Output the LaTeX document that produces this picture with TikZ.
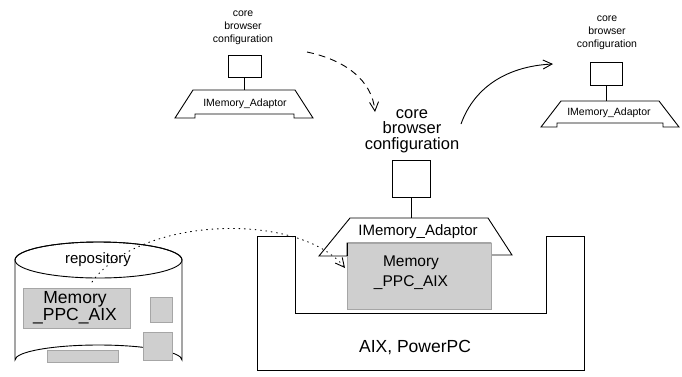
\documentclass[tikz,border=0pt]{standalone}
\usepackage{fontspec}
\setmainfont{Liberation Sans}
\usetikzlibrary{arrows.meta}
\tikzset{
  ln/.style={line width=0.9pt, line join=miter},
  txt/.style={inner sep=0pt, align=center},
  smalltxt/.style={txt, font=\fontsize{10.5}{13}\selectfont},
  bigtxt/.style={txt, font=\fontsize{16.5}{15.5}\selectfont},
  sq/.style={draw, line width=0.9pt, rectangle, inner sep=0pt, fill=white},
  shade/.style={fill=gray!38, draw=gray!70, line width=0.4pt},
  barb/.style={-{Straight Barb[length=9pt,width=9pt,line width=0.9pt]}},
}
\begin{document}
\begin{tikzpicture}[x=1pt,y=-1pt]
\useasboundingbox (0,0) rectangle (682,376);

% ---------- top-left component ----------
\node[smalltxt] (tlT) at (243,28) {core\\browser\\configuration};
\node[sq, minimum width=33pt, minimum height=22pt] (tlS) at (244.5,66) {};
\draw[ln, fill=white] (193,90) -- (295,90) -- (313,118) -- (294,118) -- (294,114)
  -- (195,114) -- (195,118) -- (175,118) -- cycle;
\coordinate (tlA) at (244.5,90);
\node[smalltxt] (tlL) at (245,104) {IMemory\_Adaptor};
\draw[ln] (tlS.south) -- (tlA);

% ---------- top-right component ----------
\node[smalltxt] (trT) at (607,33) {core\\browser\\configuration};
\node[sq, minimum width=32pt, minimum height=23pt] (trS) at (606,73.5) {};
\draw[ln, fill=white] (561,101) -- (659,101) -- (679,127) -- (663,127) -- (663,123)
  -- (557,123) -- (557,127) -- (541,127) -- cycle;
\coordinate (trA) at (606,101);
\node[smalltxt] (trL) at (609,113) {IMemory\_Adaptor};
\draw[ln] (trS.south) -- (trA);

% ---------- AIX, PowerPC platform ----------
\draw[ln] (257,236) -- (295,236) -- (295,313) -- (546,313) -- (546,236) -- (584,236)
  -- (584,370) -- (257,370) -- cycle;
\node[txt, font=\fontsize{17.5}{20}\selectfont] (aix) at (415,347) {AIX, PowerPC};

% ---------- center component ----------
\node[bigtxt] (cT) at (412,131) {core\\browser\\configuration};
\node[sq, minimum width=38pt, minimum height=37pt] (cS) at (411,178.5) {};
\draw[ln, fill=white] (350,218) -- (488,218) -- (512,255) -- (491,255) -- (491,243)
  -- (347,243) -- (347,256) -- (319,256) -- cycle;
\coordinate (cA) at (411,218);
\node[txt, font=\fontsize{15}{17}\selectfont] (cL) at (418,232) {IMemory\_Adaptor};
\draw[ln] (cS.south) -- (cA);
\draw[shade] (347,243) rectangle (491,309);
\draw[ln] (347,243) -- (347,256);
\node[txt, font=\fontsize{15.5}{20}\selectfont] (cM) at (411,273) {Memory\\\_PPC\_AIX};

% ---------- repository ----------
\draw[ln, fill=white] (15,260) -- (15,360) arc[start angle=180, end angle=360, x radius=83.5, y radius=15]
  -- (182,260) arc[start angle=0, end angle=-180, x radius=83.5, y radius=18] -- cycle;
\draw[ln] (98.5,260) ellipse[x radius=83.5, y radius=18];
\node[txt, font=\fontsize{15}{17}\selectfont] (rep) at (98,260) {repository};
\draw[shade] (23,288) rectangle (130,328);
\node[txt, font=\fontsize{17.5}{17}\selectfont] (rM) at (75,308) {Memory\\\_PPC\_AIX};
\draw[shade] (150,297) rectangle (172,322);
\draw[shade] (143,332) rectangle (172,360);
\draw[shade] (47,350) rectangle (118,362);

% ---------- arrows ----------
\coordinate (dotS) at (92,282);
\coordinate (dotE) at (345,268);
\draw[line width=0.9pt, dash pattern=on 0.9pt off 4.5pt, line cap=round, barb] (dotS) .. controls (140,215) and (300,212) .. (dotE);

\coordinate (dashS) at (307,52);
\coordinate (dashE) at (375,112);
\draw[ln, dash pattern=on 7pt off 5pt, barb] (dashS) .. controls (345,60) and (372,80) .. (dashE);

\coordinate (solS) at (461,124);
\coordinate (solE) at (553,64);
\draw[ln, barb] (solS) .. controls (475,85) and (510,66) .. (solE);
\end{tikzpicture}
\end{document}
